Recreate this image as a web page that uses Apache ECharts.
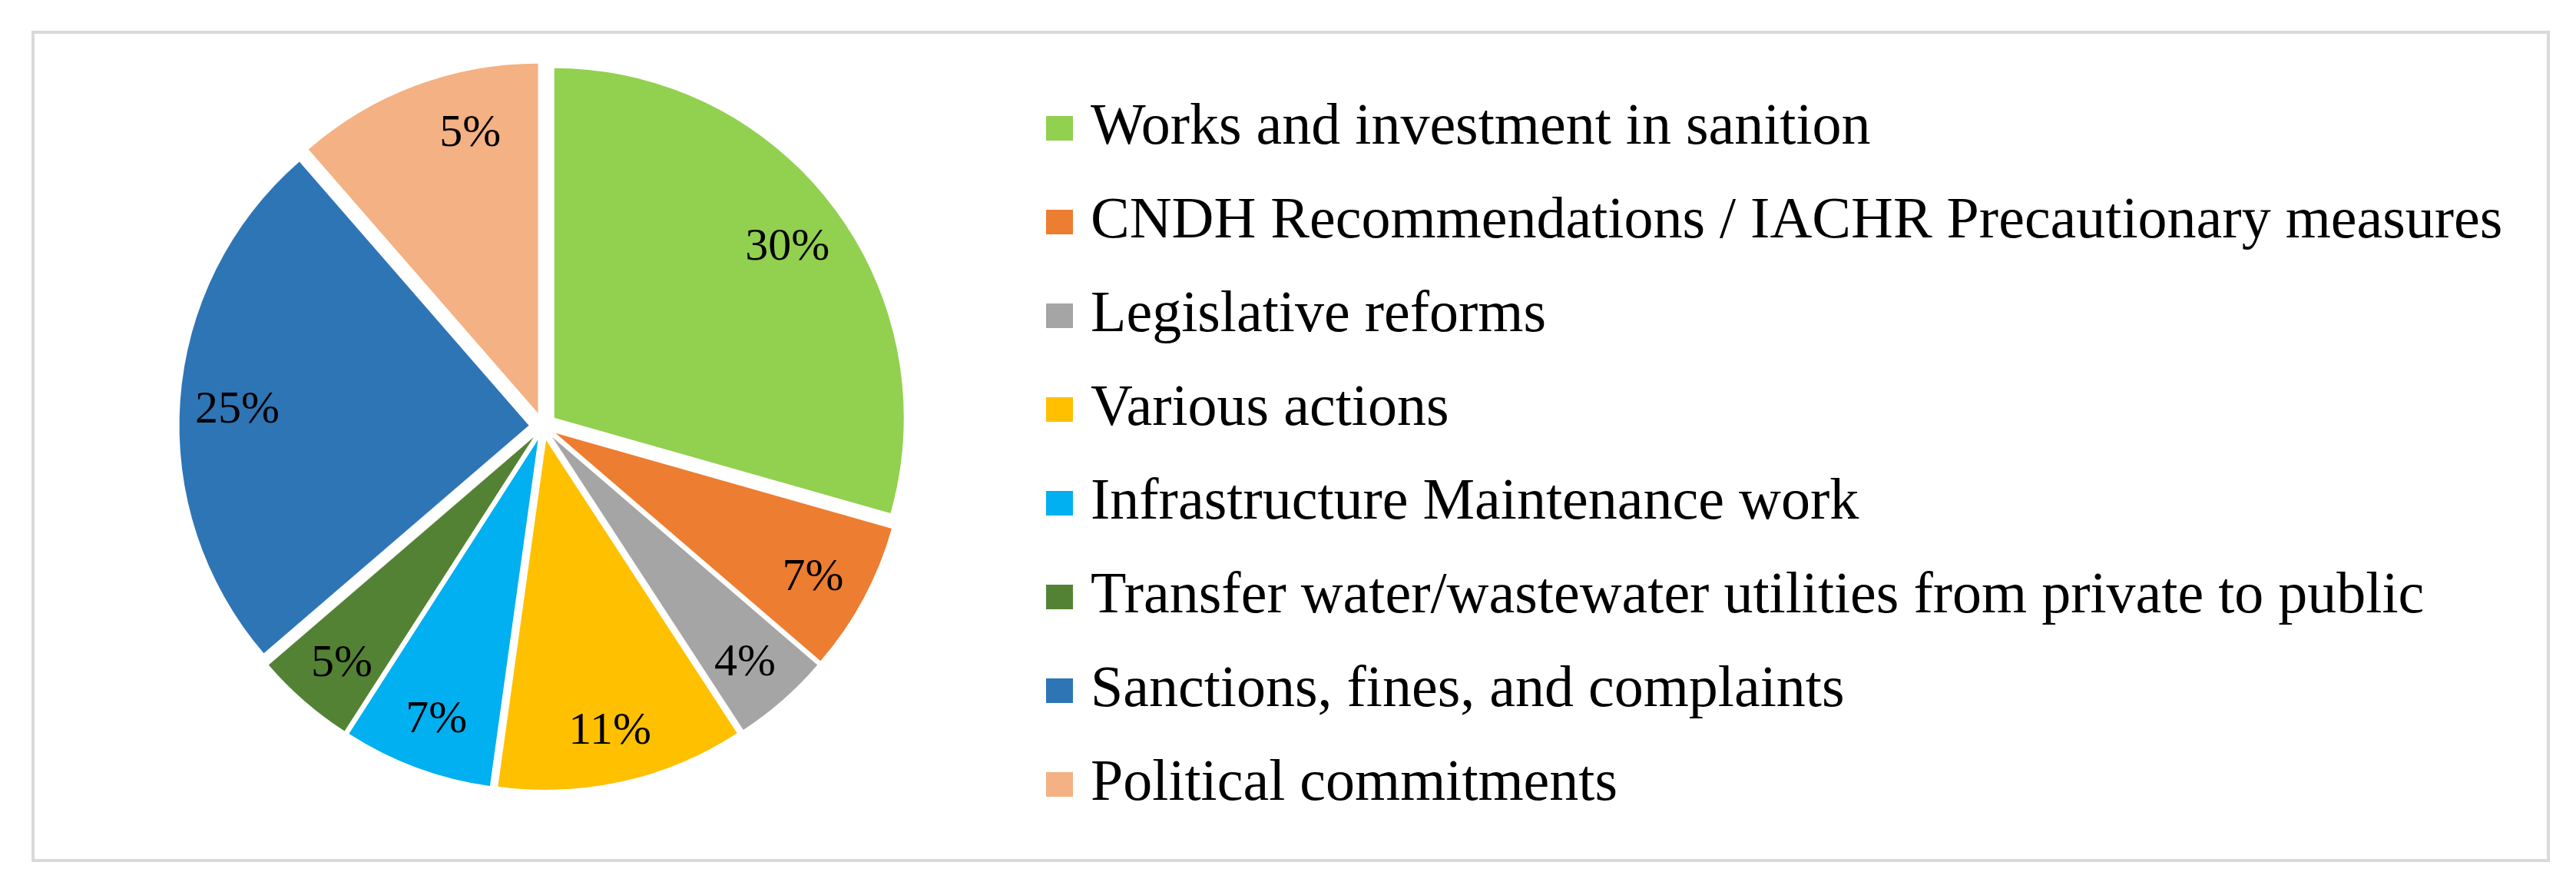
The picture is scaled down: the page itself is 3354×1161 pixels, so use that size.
<!DOCTYPE html>
<html>
<head>
<meta charset="utf-8">
<script src="https://cdn.jsdelivr.net/npm/echarts@6/dist/echarts.min.js"></script>
<style>
  html, body { margin: 0; padding: 0; background: #fff; }
  #chart { width: 3354px; height: 1161px; }
</style>
</head>
<body>
<div id="chart"></div>
<script>
// categories, in the order the slices go round (clockwise from 12 o'clock)
var categories = [
  'Works and investment in sanition',
  'CNDH Recommendations / IACHR Precautionary measures',
  'Legislative reforms',
  'Various actions',
  'Infrastructure Maintenance work',
  'Transfer water/wastewater utilities from private to public',
  'Sanctions, fines, and complaints',
  'Political commitments'
];
// slice sizes
var shares = [29.4, 6.9, 4.5, 11.4, 6.9, 4.6, 24.9, 11.4];
// labels as printed on the slices
var labelTexts = ['30%', '7%', '4%', '11%', '7%', '5%', '25%', '5%'];
var colors = ['#92D050', '#ED7D31', '#A5A5A5', '#FFC000', '#00B0F0', '#548235', '#2E75B6', '#F4B183'];

var font = '"Liberation Serif", "DejaVu Serif", serif';

var myChart = echarts.init(document.getElementById('chart'));

var pieData = categories.map(function (name, i) {
  return { name: name, value: shares[i], selected: true, itemStyle: { color: colors[i] } };
});
var labelData = categories.map(function (name, i) {
  return { name: name, value: shares[i], selected: true, label: { formatter: labelTexts[i] } };
});

myChart.setOption({
  animation: false,
  graphic: [{
    type: 'rect',
    shape: { x: 43, y: 42, width: 3275, height: 1078 },
    style: { fill: 'none', stroke: '#d9d9d9', lineWidth: 4 },
    silent: true
  }],
  legend: {
    orient: 'vertical',
    left: 1357,
    top: 120,
    icon: 'rect',
    itemWidth: 35,
    itemHeight: 32,
    itemGap: 38,
    data: categories,
    selectedMode: false,
    textStyle: {
      fontFamily: font,
      fontSize: 76,
      lineHeight: 84,
      color: '#000',
      padding: [0, 0, 0, 18]
    }
  },
  series: [
    {
      name: 'actions',
      type: 'pie',
      center: [707, 555],
      radius: 455,
      startAngle: 90,
      clockwise: true,
      selectedMode: 'multiple',
      selectedOffset: 18.5,
      emphasis: { disabled: true },
      label: { show: false },
      labelLine: { show: false },
      data: pieData
    },
    {
      // transparent ring, only used to place the percent labels near the rim
      name: 'labels',
      type: 'pie',
      center: [707, 555],
      radius: [300, 455],
      startAngle: 90,
      clockwise: true,
      selectedMode: 'multiple',
      selectedOffset: 18.5,
      silent: true,
      avoidLabelOverlap: false,
      emphasis: { disabled: true },
      itemStyle: { color: 'rgba(0,0,0,0)' },
      label: {
        show: true,
        position: 'inside',
        fontFamily: font,
        fontSize: 60,
        color: '#000'
      },
      labelLayout: function (params) {
        // the last label sits a bit right of its slice middle in the original
        if (params.dataIndex === categories.length - 1) {
          return { dx: 45, dy: -7 };
        }
        return { dy: 8 };
      },
      labelLine: { show: false },
      data: labelData
    }
  ]
});
</script>
</body>
</html>
